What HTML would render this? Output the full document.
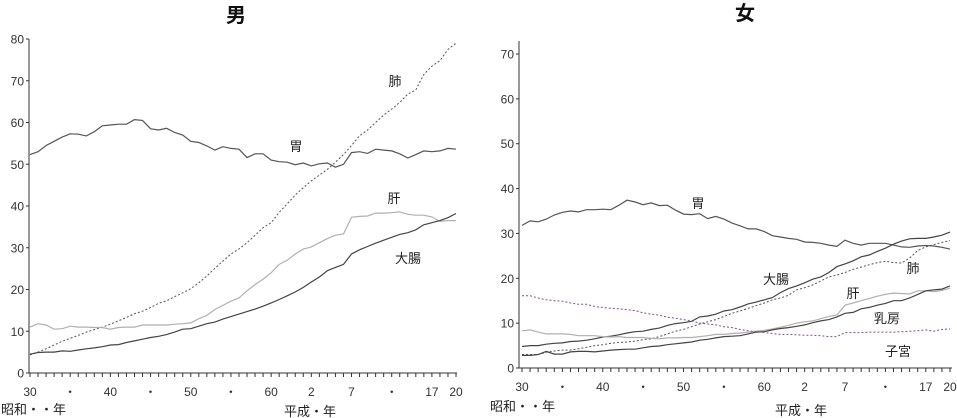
<!DOCTYPE html>
<html><head><meta charset="utf-8">
<style>
html,body{margin:0;padding:0;background:#fff;}
svg{display:block;font-family:"Liberation Sans","Noto Sans CJK JP",sans-serif;}
</style></head>
<body>
<svg id="c" width="957" height="418" viewBox="0 0 957 418">
<text x="236" y="22" font-size="20" font-weight="bold" text-anchor="middle" fill="#111">男</text>
<text x="745" y="20" font-size="20" font-weight="bold" text-anchor="middle" fill="#111">女</text>
</svg>
<script>
const years = [];
for (let y = 1955; y <= 2008; y++) years.push(y);
const xTickLabels = ["30","・","40","・","50","・","60","2","7","・","17","20"];
const xTickYears = [1955,1960,1965,1970,1975,1980,1985,1990,1995,2000,2005,2008];
const maleYTicks = [0,10,20,30,40,50,60,70,80];
const femaleYTicks = [0,10,20,30,40,50,60,70];

const maleStomach = [52.3,53,54.5,55.5,56.5,57.3,57.2,56.8,57.8,59.2,59.4,59.6,59.6,60.7,60.5,58.5,58.2,58.6,57.6,57,55.5,55.2,54.4,53.4,54.2,53.8,53.6,51.6,52.5,52.5,51,50.6,50.5,49.9,50.3,49.6,50.1,50.3,49.3,50,52.8,53,52.6,53.6,53.4,53.2,52.5,51.5,52.3,53.2,53,53.2,53.8,53.6];
const maleLung = [4.3,5,5.8,6.7,7.6,8.3,9,9.8,10.4,11,11.7,12.5,13.3,14.2,14.8,15.7,16.7,17.3,18.3,19.2,20.2,21.6,23.2,25.1,26.8,28.5,29.7,31.2,33,34.8,36,38.5,40.5,42.6,44.4,46,47.4,48.8,50.5,52.3,54.5,56.8,58.2,60,61.8,63.2,64.8,66.8,67.8,71.5,73.5,74.8,77.5,79];
const maleLiver = [11,11.8,11.5,10.5,10.6,11.2,11,11,10.9,10.9,10.5,10.9,11,11,11.5,11.5,11.5,11.5,11.7,11.8,12,13,13.8,15.2,16.2,17.2,18,19.7,21.2,22.5,24,26,27,28.5,29.7,30.2,31.2,32.2,33,33.3,37.3,37.5,37.6,38.3,38.3,38.4,38.6,38,37.8,37.8,37.4,36.3,36.5,36.5];
const maleColon = [4.5,4.9,5,5,5.3,5.2,5.5,5.8,6,6.3,6.7,6.8,7.3,7.7,8.1,8.5,8.8,9.2,9.8,10.5,10.6,11.2,11.8,12.2,12.9,13.5,14.1,14.7,15.3,16,16.8,17.6,18.5,19.4,20.5,21.8,23,24.5,25.3,26,28.5,29.5,30.3,31.1,31.8,32.5,33.2,33.6,34.3,35.5,36,36.5,37.2,38.2];

const femStomach = [31.8,32.8,32.6,33.2,34.1,34.7,35,34.8,35.3,35.3,35.4,35.3,36.3,37.4,37,36.4,36.8,36.2,36.3,35.2,34.3,34.2,34.4,33.3,33.8,33.2,32.3,31.7,31,31,30.4,29.5,29.2,28.9,28.7,28.1,28,27.8,27.4,27.1,28.5,27.8,27.4,27.8,27.8,27.8,27.4,27,26.9,27.2,27.3,27.2,26.9,26.5];
const femColon = [4.8,5,5,5.3,5.5,5.6,5.9,6,6.2,6.5,6.9,7.1,7.4,7.8,8.1,8.2,8.6,8.9,9.5,9.9,10.1,10.4,11.4,11.6,12,12.7,13,13.6,14.3,14.7,15.2,15.7,16.8,17.7,18.3,19,19.8,20.3,21.3,22.6,23.2,23.9,24.8,25.2,26,26.7,27.6,28.3,28.8,28.9,28.9,29.2,29.6,30.3];
const femLung = [3,3,3,3.5,3.8,4,4,4.3,4.6,5,5.2,5.5,5.7,5.8,6,6.3,6.5,7,7.6,8.2,8.6,9.2,9.8,10.3,10.8,11.5,12.2,12.7,13.3,13.9,14.5,15.2,15.6,16.2,17.4,17.9,18.5,19.4,20.3,20.7,21.3,22,22.5,23,23.5,23.8,23.5,23.4,24.5,26.2,27,27.5,28,28.4];
const femLiver = [8.3,8.5,8,7.6,7.6,7.6,7.5,7.2,7.2,7.2,7,6.9,7,6.8,6.8,6.8,6.6,6.5,6.7,6.7,6.8,6.8,7,7.2,7.5,7.5,7.7,7.8,8,8.2,8.4,8.7,9.1,9.5,10,10.3,10.5,11,11.5,11.8,14,14.5,15,15.5,16,16.4,16.7,16.6,16.5,17.2,17.2,17,17.3,17.8];
const femBreast = [2.8,2.8,3,3.7,3.1,3.1,3.6,3.7,3.7,3.6,3.8,4,4.1,4.2,4.2,4.5,4.8,4.9,5.2,5.4,5.6,5.8,6.2,6.4,6.7,7,7.1,7.2,7.6,8,8.1,8.5,8.8,9,9.3,9.6,10.1,10.5,10.8,11.4,12.2,12.4,13.2,13.5,14,14.4,15,15,15.6,16.4,17.2,17.4,17.6,18.3];
const femUterus = [16.1,16.1,15.6,15.2,15,14.9,14.5,14.2,14.2,13.7,13.5,13.3,13.2,13,12.8,12.3,12,11.8,11.3,11.1,10.8,10.5,10,9.8,9.6,9.2,9,8.6,8.3,8.1,7.9,7.7,7.5,7.5,7.4,7.3,7.3,7.2,7,7,7.9,7.9,7.9,8,8,8,8,8.1,8.2,8.3,8.5,8.2,8.6,8.7];

const NS = "http://www.w3.org/2000/svg";
const svg = document.getElementById("c");
function mk(tag, attrs, parent) {
  const e = document.createElementNS(NS, tag);
  for (const k in attrs) e.setAttribute(k, attrs[k]);
  (parent || svg).appendChild(e);
  return e;
}

function drawChart(cfg) {
  const g = mk("g", {});
  
  
  const xs = y => cfg.x0 + (y - years[0]) * (cfg.x1 - cfg.x0) / (years[years.length-1] - years[0]);
  const ys = v => cfg.y0 - v * (cfg.y0 - cfg.yTop) / cfg.vmax;
  // axes
  const ya = mk("line", {x1: cfg.ax, y1: cfg.axTop, x2: cfg.ax, y2: cfg.y0, stroke: "#333", "stroke-width": 1}, g);
  
  
  const xa = mk("line", {x1: cfg.ax, y1: cfg.y0, x2: cfg.axRight, y2: cfg.y0, stroke: "#333", "stroke-width": 1}, g);
  
  
  cfg.yTicks.forEach(v => {
    const y = ys(v);
    mk("line", {x1: cfg.ax - 3, y1: y, x2: cfg.ax, y2: y, stroke: "#333"}, g);
    const t = mk("text", {x: cfg.ax - 5, y: y + 4.5, "font-size": 12, "text-anchor": "end", fill: "#333"}, g);
    t.textContent = v;
    
    
  });
  years.forEach(yr => {
    const x = xs(yr);
    mk("line", {x1: x, y1: cfg.y0, x2: x, y2: cfg.y0 + 4, stroke: "#333"}, g);
  });
  xTickYears.forEach((yr, i) => {
    const t = mk("text", {x: xs(yr), y: cfg.y0 + 23, "font-size": 12, "text-anchor": "middle", fill: "#333"}, g);
    t.textContent = xTickLabels[i];
    
    
  });
  cfg.series.forEach(s => {
    const d = s.data.map((v, i) => (i ? "L" : "M") + xs(years[i]).toFixed(1) + "," + ys(v).toFixed(1)).join(" ");
    const p = mk("path", {d: d, fill: "none", stroke: s.color, "stroke-width": s.w || 1.2, "stroke-dasharray": s.dash || "none"}, g);
    
    
  });
  cfg.labels.forEach(l => {
    const t = mk("text", {x: l[1], y: l[2], "font-size": 13, "text-anchor": "middle", fill: "#222"}, g);
    t.textContent = l[0];
    
    
  });
  cfg.eras.forEach(l => {
    const t = mk("text", {x: l[1], y: l[2], "font-size": 13, fill: "#222"}, g);
    t.textContent = l[0];
    
    
  });
}

drawChart({
  name: "male-chart", x0: 30, x1: 456, ax: 29, axRight: 457, y0: 373, yTop: 39, axTop: 39, vmax: 80,
  yTicks: maleYTicks,
  series: [
    {name: "male-stomach-line", data: maleStomach, color: "#555"},
    {name: "male-lung-line", data: maleLung, color: "#555", dash: "2,2", w: 1},
    {name: "male-liver-line", data: maleLiver, color: "#b0b0b0"},
    {name: "male-colorectal-line", data: maleColon, color: "#444"}
  ],
  labels: [["肺", 395, 86, "male-lung-label"], ["胃", 296, 151, "male-stomach-label"], ["肝", 394, 203, "male-liver-label"], ["大腸", 408, 263, "male-colorectal-label"]],
  eras: [["昭和・・年", 1, 414, "showa-label"], ["平成・年", 284, 416, "heisei-label"]]
});

drawChart({
  name: "female-chart", x0: 522, x1: 950, ax: 519, axRight: 952, y0: 368, yTop: 54, axTop: 41, vmax: 70,
  yTicks: femaleYTicks,
  series: [
    {name: "female-stomach-line", data: femStomach, color: "#555"},
    {name: "female-colorectal-line", data: femColon, color: "#444"},
    {name: "female-lung-line", data: femLung, color: "#555", dash: "2,2", w: 1},
    {name: "female-liver-line", data: femLiver, color: "#b0b0b0"},
    {name: "female-breast-line", data: femBreast, color: "#444"},
    {name: "female-uterus-line", data: femUterus, color: "#8a4a8a", dash: "2,2", w: 1}
  ],
  labels: [["胃", 698, 208, "female-stomach-label"], ["大腸", 776, 284, "female-colorectal-label"], ["肺", 913, 273, "female-lung-label"], ["肝", 853, 298, "female-liver-label"], ["乳房", 887, 323, "female-breast-label"], ["子宮", 898, 356, "female-uterus-label"]],
  eras: [["昭和・・年", 490, 411, "showa-label-female"], ["平成・年", 775, 415, "heisei-label-female"]]
});
</script>
</body></html>
